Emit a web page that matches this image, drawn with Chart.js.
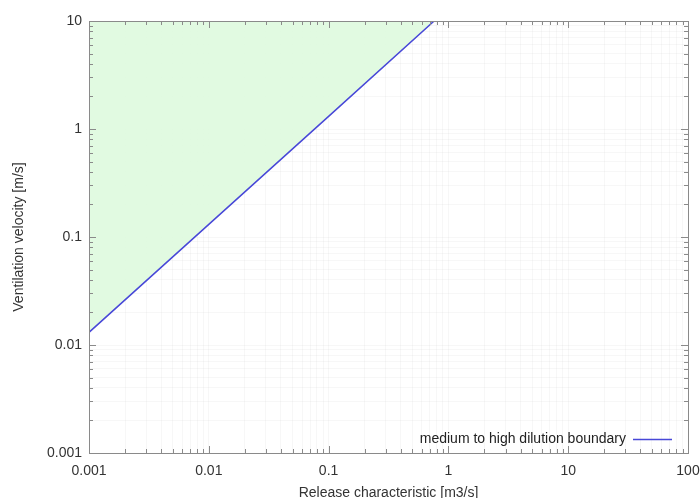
<!DOCTYPE html>
<html><head><meta charset="utf-8">
<script src="https://cdn.jsdelivr.net/npm/chart.js@4"></script>
<style>html,body{margin:0;padding:0;background:#fff}#wrap{width:700px;height:498px}</style>
</head><body><div id="wrap"><canvas id="c" width="700" height="498"></canvas></div>
<script>
const releaseQ = [0.001, 0.01, 0.1, 0.76];
const ventVelocity = [0.0131, 0.131, 1.31, 10];
const xDecades = [0.001, 0.01, 0.1, 1, 10, 100];
const yDecades = [0.001, 0.01, 0.1, 1, 10];
const seriesLabel = 'medium to high dilution boundary';
const xTitle = 'Release characteristic [m3/s]';
const yTitle = 'Ventilation velocity [m/s]';
const FONT = '"Liberation Sans", Arial, sans-serif';

function allTicks(dec){
  const out=[];
  for(let i=0;i<dec.length;i++){
    if(i<dec.length-1){ for(let m=1;m<10;m++) out.push({value:+(dec[i]*m).toPrecision(3)}); }
    else out.push({value:dec[i]});
  }
  return out;
}
function isMajor(v,dec){ return dec.some(d=>Math.abs(d-v)/d<1e-6); }
function fmt(v){ return String(v); }

const boxPlugin = {
  id:'box',
  afterDatasetsDraw(chart){
    const {ctx, chartArea:a, scales:{x,y}} = chart;
    ctx.save();
    ctx.strokeStyle='#8a8a8a'; ctx.lineWidth=1;
    ctx.strokeRect(a.left+0.5, a.top+0.5, a.right-a.left, a.bottom-a.top);
    ctx.beginPath();
    x.ticks.forEach(t=>{
      const px=Math.round(x.getPixelForValue(t.value))+0.5;
      const L = isMajor(t.value,xDecades)?7:4;
      ctx.moveTo(px,a.bottom); ctx.lineTo(px,a.bottom-L);
      ctx.moveTo(px,a.top); ctx.lineTo(px,a.top+L);
    });
    y.ticks.forEach(t=>{
      const py=Math.round(y.getPixelForValue(t.value))+0.5;
      const L = isMajor(t.value,yDecades)?7:4;
      ctx.moveTo(a.left,py); ctx.lineTo(a.left+L,py);
      ctx.moveTo(a.right,py); ctx.lineTo(a.right-L,py);
    });
    ctx.stroke();
    // legend
    ctx.font='14px '+FONT;
    ctx.fillStyle='#222'; ctx.textAlign='right'; ctx.textBaseline='middle';
    const ly=a.bottom-14;
    ctx.fillText(seriesLabel, a.right-62, ly);
    ctx.strokeStyle=chart.data.datasets[0].borderColor; ctx.lineWidth=1.5;
    ctx.beginPath(); ctx.moveTo(a.right-55,ly+0.5); ctx.lineTo(a.right-16,ly+0.5); ctx.stroke();
    ctx.restore();
  }
};

new Chart(document.getElementById('c'),{
  type:'line',
  data:{datasets:[{
    label:seriesLabel,
    data:releaseQ.map((q,i)=>({x:q,y:ventVelocity[i]})),
    borderColor:'#4848d8', borderWidth:1.5, pointRadius:0,
    fill:'end', backgroundColor:'rgba(222,250,222,0.9)', tension:0
  }]},
  options:{
    responsive:false, animation:false,
    layout:{padding:{left:0,right:12,top:21,bottom:0}},
    plugins:{legend:{display:false},tooltip:{enabled:false}},
    scales:{
      x:{type:'logarithmic',min:0.001,max:100,
        afterBuildTicks(s){s.ticks=allTicks(xDecades);},
        afterFit(s){s.height=45;s.paddingLeft=0;s.paddingRight=0;},
        grid:{color:'rgba(0,0,0,0.032)',drawTicks:false},
        border:{display:false},
        ticks:{autoSkip:false,maxRotation:0,padding:10,color:'#333',
          font:{family:FONT,size:14},
          callback:(v)=>isMajor(v,xDecades)?fmt(v):''},
        title:{display:true,text:xTitle,color:'#333',padding:{top:4,bottom:-4},
          font:{family:FONT,size:14}}
      },
      y:{type:'logarithmic',min:0.001,max:10,
        afterBuildTicks(s){s.ticks=allTicks(yDecades);},
        afterFit(s){s.width=89;s.paddingTop=0;s.paddingBottom=0;},
        grid:{color:'rgba(0,0,0,0.032)',drawTicks:false},
        border:{display:false},
        ticks:{autoSkip:false,padding:7,color:'#333',
          font:{family:FONT,size:14},
          callback:(v)=>isMajor(v,yDecades)?fmt(v):''},
        title:{display:true,text:yTitle,color:'#333',padding:{top:11,bottom:4},
          font:{family:FONT,size:14}}
      }
    }
  },
  plugins:[boxPlugin]
});
</script></body></html>
